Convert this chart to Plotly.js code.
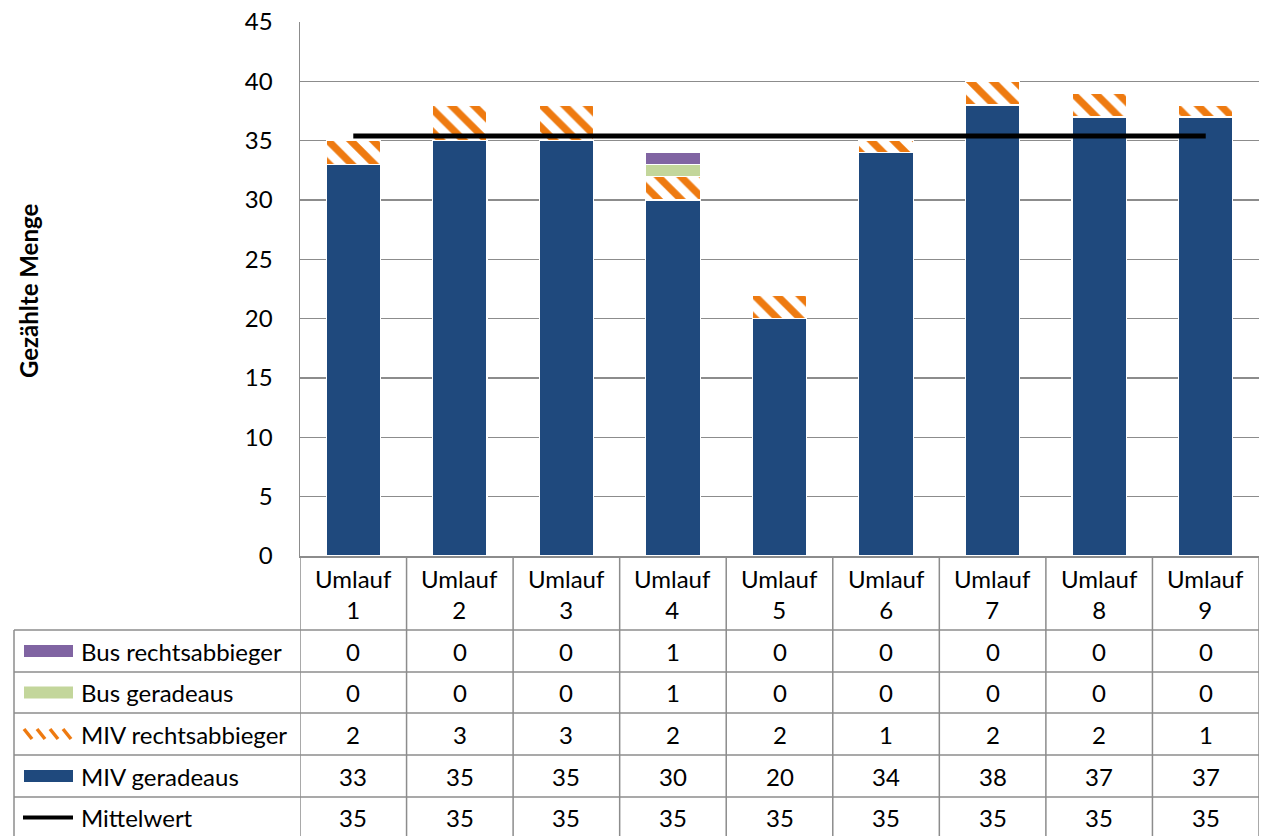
<!DOCTYPE html>
<html>
<head>
<meta charset="utf-8">
<script src="https://cdn.plot.ly/plotly-3.0.1.min.js"></script>
<style>html,body{margin:0;padding:0;background:#fff}#chart{width:1269px;height:836px}</style>
</head>
<body>
<div id="chart"></div>
<script>
// ---- data ----
const categories = ["Umlauf 1","Umlauf 2","Umlauf 3","Umlauf 4","Umlauf 5","Umlauf 6","Umlauf 7","Umlauf 8","Umlauf 9"];
const busRechts = [0,0,0,1,0,0,0,0,0];
const busGeradeaus = [0,0,0,1,0,0,0,0,0];
const mivRechts = [2,3,3,2,2,1,2,2,1];
const mivGeradeaus = [33,35,35,30,20,34,38,37,37];
const mittelwert = [35.4,35.4,35.4,35.4,35.4,35.4,35.4,35.4,35.4];
const yTicks = [0,5,10,15,20,25,30,35,40,45];
const yTitle = "Gezählte Menge";

// ---- layout constants (pixels) ----
const W = 1269, H = 836;
const mL = 300, mR = 10, mT = 22, mB = 280;
const plotW = W - mL - mR, plotH = H - mT - mB;
const plotBottomPx = H - mB;
const FONT = "Lato, 'Open Sans', sans-serif";
const FS = 24;
const GRID = "#8c8c8c";
function py(p){ return (plotBottomPx - p) / plotH; }   // pixel y -> paper y
function px(p){ return (p - mL) / plotW; }              // pixel x -> paper x

const cBlue = "#1F497D", cOrange = "#EE7A10", cGreen = "#C3D69B", cPurple = "#8064A2";

const traces = [
  {type:"bar", name:"MIV geradeaus", x:categories, y:mivGeradeaus,
   marker:{color:cBlue, line:{color:"#ffffff", width:1.2}}},
  {type:"bar", name:"MIV rechtsabbieger", x:categories, y:mivRechts,
   marker:{color:"#ffffff", line:{color:"#ffffff", width:1.2},
     pattern:{shape:"\\", fgcolor:cOrange, bgcolor:"#ffffff", size:16, solidity:0.45, fillmode:"replace"}}},
  {type:"bar", name:"Bus geradeaus", x:categories, y:busGeradeaus,
   marker:{color:cGreen, line:{color:"#ffffff", width:1.2}}},
  {type:"bar", name:"Bus rechtsabbieger", x:categories, y:busRechts,
   marker:{color:cPurple, line:{color:"#ffffff", width:1.2}}},
  {type:"scatter", mode:"lines", name:"Mittelwert", x:categories, y:mittelwert,
   line:{color:"#000000", width:5}}
];

// ---- data table (drawn as shapes + annotations) ----
const rowLines = [630, 672, 713, 755, 797, 838];
const rows = [
  {label:"Bus rechtsabbieger", vals:busRechts, kind:"rect", color:cPurple},
  {label:"Bus geradeaus", vals:busGeradeaus, kind:"rect", color:cGreen},
  {label:"MIV rechtsabbieger", vals:mivRechts, kind:"pattern", color:cOrange},
  {label:"MIV geradeaus", vals:mivGeradeaus, kind:"rect", color:cBlue},
  {label:"Mittelwert", vals:mittelwert, kind:"line", color:"#000000"}
];
const shapes = [];
const annotations = [];
const tableLeft = 14;
const lineStyle = {color:GRID, width:1.5};

// horizontal lines of the table
rowLines.forEach(yp => {
  shapes.push({type:"line", xref:"paper", yref:"paper", x0:px(tableLeft), x1:1, y0:py(yp), y1:py(yp), line:lineStyle, layer:"above"});
});
// vertical lines: category boundaries
for (let i = 0; i <= categories.length; i++) {
  shapes.push({type:"line", xref:"x", yref:"paper", x0:i-0.5, x1:i-0.5, y0:0, y1:py(rowLines[rowLines.length-1]), line:lineStyle});
}
// table left edge
shapes.push({type:"line", xref:"paper", yref:"paper", x0:px(tableLeft), x1:px(tableLeft), y0:py(rowLines[0]), y1:py(838), line:lineStyle});

// header row (category labels)
categories.forEach((c, i) => {
  const parts = c.split(" ");
  annotations.push({xref:"x", yref:"paper", x:c, y:py(594), text:parts[0]+"<br>"+parts[1],
    showarrow:false, font:{family:FONT, size:FS, color:"#000"}, xanchor:"center", yanchor:"middle"});
});

rows.forEach((r, k) => {
  const top = rowLines[k], bot = rowLines[k+1];
  const mid = (top + bot) / 2;
  // legend key
  if (r.kind === "rect") {
    shapes.push({type:"rect", xref:"paper", yref:"paper", x0:px(24), x1:px(73), y0:py(mid+6), y1:py(mid-6),
      fillcolor:r.color, line:{width:0}});
  } else if (r.kind === "line") {
    shapes.push({type:"line", xref:"paper", yref:"paper", x0:px(23), x1:px(73), y0:py(mid), y1:py(mid),
      line:{color:r.color, width:4}});
  } else {
    // striped key: short diagonal strokes
    for (let s = 0; s < 4; s++) {
      const x0 = 24 + s*13;
      shapes.push({type:"line", xref:"paper", yref:"paper", x0:px(x0), x1:px(x0+8), y0:py(mid-5), y1:py(mid+5),
        line:{color:r.color, width:3.5}});
    }
  }
  annotations.push({xref:"paper", yref:"paper", x:px(79), y:py(mid), text:r.label, showarrow:false,
    font:{family:FONT, size:FS, color:"#000"}, xanchor:"left", yanchor:"middle"});
  r.vals.forEach((v, i) => {
    annotations.push({xref:"x", yref:"paper", x:categories[i], y:py(mid), text:String(Math.round(v)), showarrow:false,
      font:{family:FONT, size:FS, color:"#000"}, xanchor:"center", yanchor:"middle"});
  });
});

// y-axis title
annotations.push({xref:"paper", yref:"paper", x:px(28), y:py(291), text:"<b>"+yTitle+"</b>", textangle:-90,
  showarrow:false, font:{family:FONT, size:24, color:"#000"}, xanchor:"center", yanchor:"middle"});

const layout = {
  width:W, height:H,
  margin:{l:mL, r:mR, t:mT, b:mB, pad:0},
  paper_bgcolor:"#ffffff", plot_bgcolor:"#ffffff",
  barmode:"stack", bargap:0.49,
  showlegend:false,
  font:{family:FONT, size:FS, color:"#000"},
  xaxis:{type:"category", showticklabels:false, ticks:"", showgrid:false, zeroline:false,
    showline:true, linecolor:GRID, linewidth:1.5, range:[-0.5, categories.length-0.5], fixedrange:true},
  yaxis:{range:[0,45], tickvals:yTicks, ticktext:yTicks.map(String), showgrid:true, gridcolor:GRID, gridwidth:1.5,
    zeroline:false, showline:true, linecolor:GRID, linewidth:1.5, ticks:"outside", ticklen:21, tickcolor:"rgba(0,0,0,0)",
    tickfont:{family:FONT, size:FS, color:"#000"}, fixedrange:true},
  shapes:shapes,
  annotations:annotations
};

Plotly.newPlot("chart", traces, layout, {displayModeBar:false, staticPlot:true});
</script>
</body>
</html>
